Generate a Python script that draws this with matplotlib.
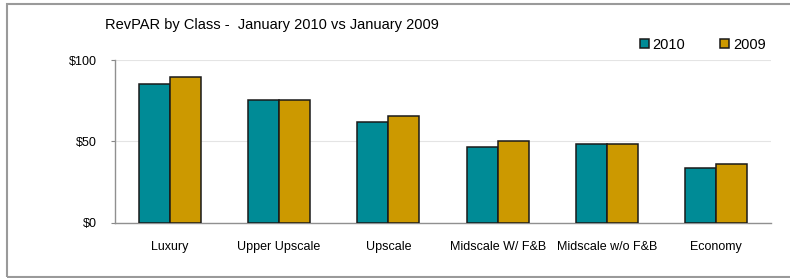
import matplotlib
matplotlib.use("Agg")
import matplotlib.pyplot as plt
from matplotlib.patches import Rectangle
import numpy as np

categories = ["Luxury", "Upper Upscale", "Upscale", "Midscale W/ F&B", "Midscale w/o F&B", "Economy"]
rev_2010 = [85.2, 75.2, 61.7, 46.7, 48.2, 33.4]
rev_2009 = [89.5, 75.2, 65.6, 50.4, 48.2, 36.3]
yticks = [0, 50, 100]
ytick_labels = ["$0", "$50", "$100"]

plt.rcParams['font.family'] = ['Liberation Sans', 'DejaVu Sans']

W, H = 790, 278
fig = plt.figure(figsize=(W / 100, H / 100), dpi=100)
fig.patch.set_facecolor("white")

# outer frame (right edge lies beyond the image)
fig.patches.append(Rectangle((7 / W, 1 - 277 / H), (830 - 7) / W, (277 - 4) / H,
                             transform=fig.transFigure, fill=False,
                             edgecolor="#9a9a9a", linewidth=1.5, zorder=0))

ax = fig.add_axes([115 / W, 1 - 222.7 / H, 656 / W, 162.7 / H])
x = np.arange(len(categories))
bw = 0.285
teal = "#008B96"
gold = "#CC9900"
ax.bar(x - bw / 2, rev_2010, bw, color=teal, edgecolor="#1a1a1a", linewidth=1.1, label="2010", zorder=3)
ax.bar(x + bw / 2, rev_2009, bw, color=gold, edgecolor="#1a1a1a", linewidth=1.1, label="2009", zorder=3)

ax.set_xlim(-0.5, len(categories) - 0.5)
ax.set_ylim(0, 100)
ax.set_yticks(yticks)
ax.set_yticklabels(ytick_labels, fontsize=9)
ax.set_xticks(x)
ax.set_xticklabels(categories, fontsize=9)
ax.tick_params(axis="x", length=0, pad=13)
ax.tick_params(axis="y", length=3, color="#888888", pad=10)
ax.yaxis.grid(True, color="#e4e4e4", linewidth=0.8, zorder=0)
for s in ["top", "right"]:
    ax.spines[s].set_visible(False)
for s in ["left", "bottom"]:
    ax.spines[s].set_color("#909090")
    ax.spines[s].set_linewidth(1.0)

fig.text(105 / W, 1 - 25 / H, "RevPAR by Class -  January 2010 vs January 2009",
         fontsize=10.5, va="center", ha="left")

leg = ax.legend(ncol=2, frameon=False, loc="center left",
                bbox_to_anchor=(633 / W, 1 - 45 / H), bbox_transform=fig.transFigure,
                fontsize=10.5, handlelength=0.6, handleheight=0.6, handletextpad=0.25,
                columnspacing=2.4, borderpad=0)

fig.savefig("out.png", dpi=100)
